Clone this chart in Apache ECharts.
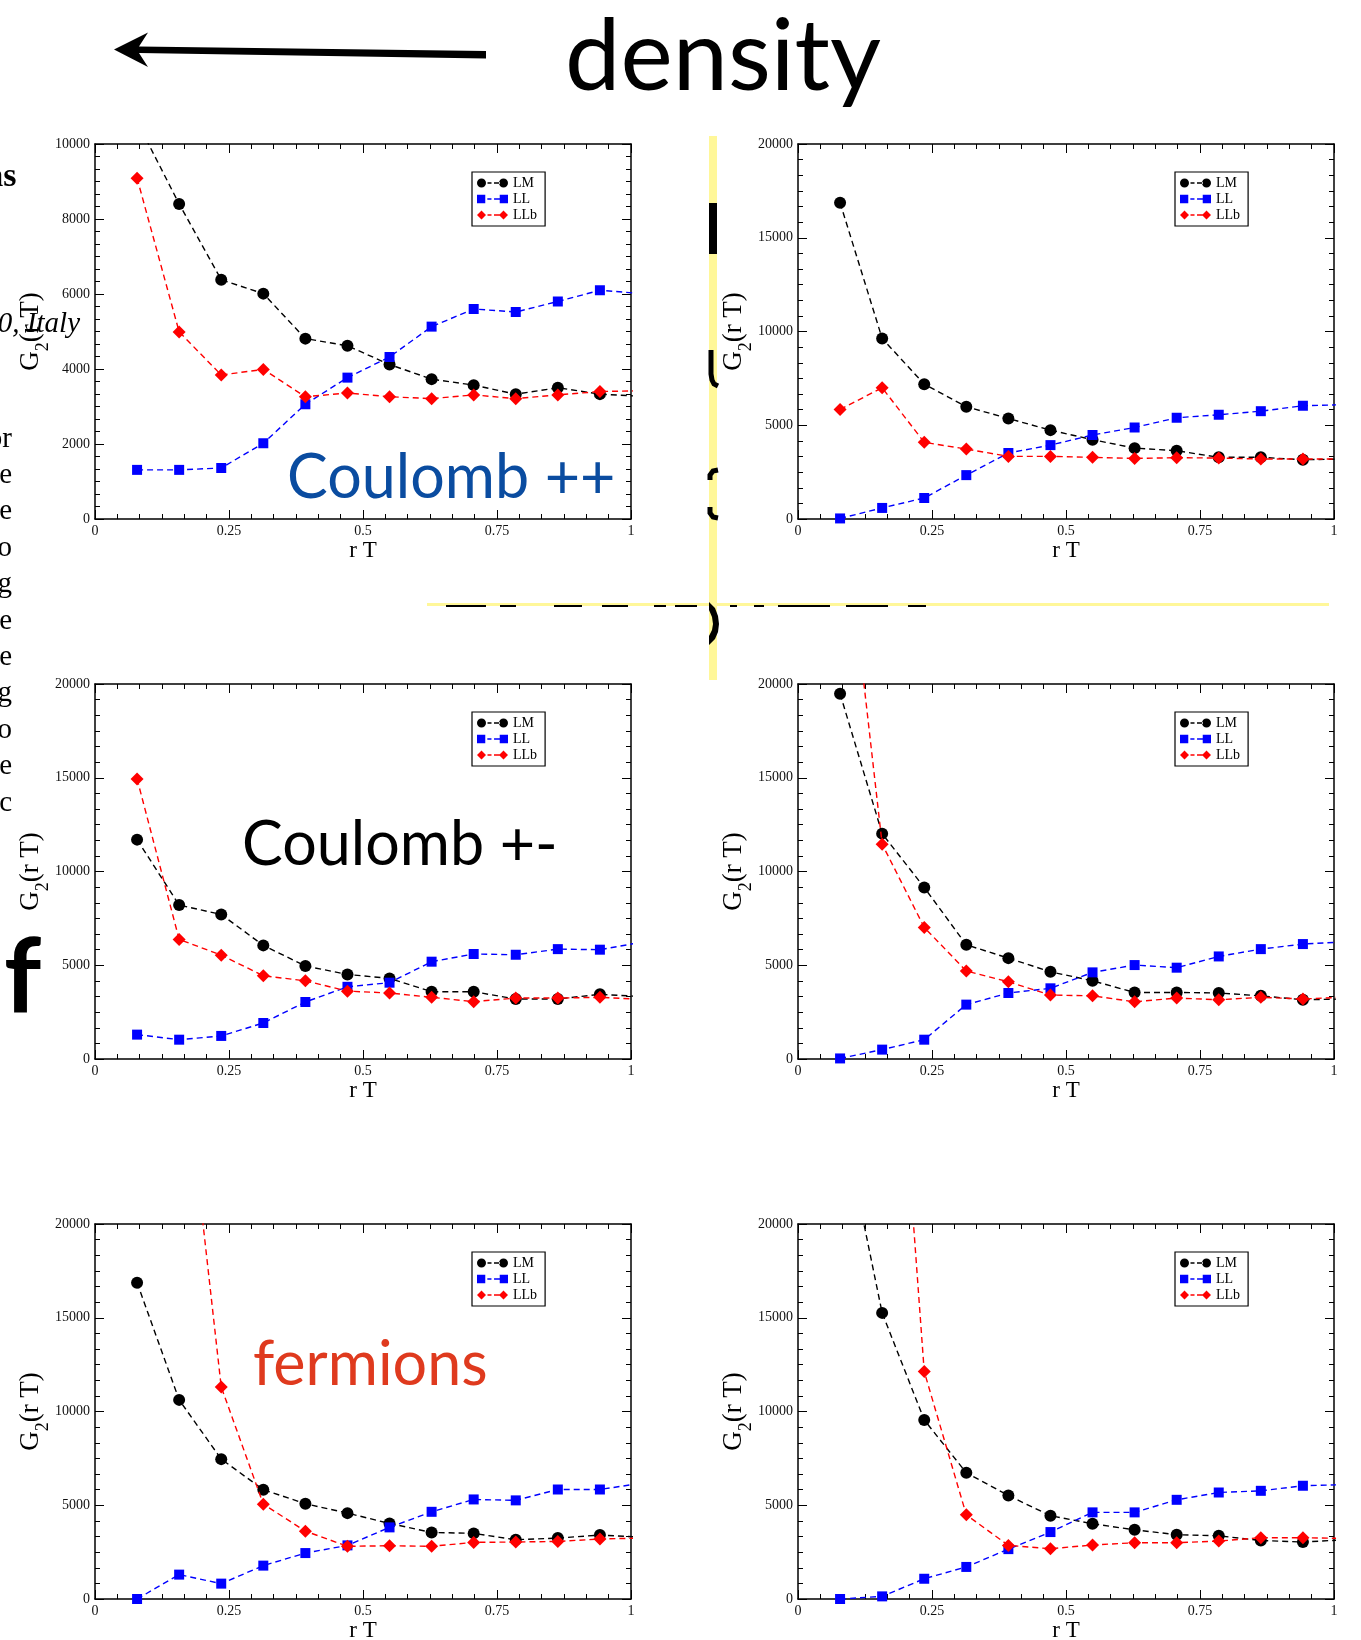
<!DOCTYPE html>
<html>
<head>
<meta charset="utf-8">
<title>G2(r T)</title>
<script src="https://cdn.jsdelivr.net/npm/echarts@6.0.0/dist/echarts.min.js"></script>
<style>
html, body { margin: 0; padding: 0; background: #fff; }
#chart { width: 1361px; height: 1640px; }
</style>
</head>
<body>
<div id="chart"></div>
<script>
// r·T sample points shared by every panel (the last one sits just past the frame)
const rT = [0.0785, 0.157, 0.2355, 0.314, 0.3925, 0.471, 0.5495, 0.628, 0.7065, 0.785, 0.8635, 0.942, 1.0205];
const seriesNames = ['LM', 'LL', 'LLb'];
const xTicks = [0, 0.25, 0.5, 0.75, 1];
const yTicks10k = [0, 2000, 4000, 6000, 8000, 10000];
const yTicks20k = [0, 5000, 10000, 15000, 20000];

// Coulomb ++, higher density (left) and lower density (right)
const ppHighLM  = [10600, 8400, 6380, 6010, 4810, 4620, 4120, 3730, 3570, 3330, 3500, 3330, 3270];
const ppHighLL  = [1310, 1310, 1360, 2020, 3060, 3770, 4320, 5130, 5600, 5520, 5800, 6100, 6010];
const ppHighLLb = [9090, 4990, 3840, 3990, 3260, 3360, 3260, 3210, 3310, 3210, 3310, 3400, 3420];
const ppLowLM   = [16870, 9630, 7190, 5990, 5360, 4740, 4230, 3780, 3640, 3290, 3290, 3160, 3200];
const ppLowLL   = [30, 590, 1120, 2340, 3520, 3940, 4480, 4880, 5400, 5560, 5750, 6040, 6100];
const ppLowLLb  = [5840, 7000, 4090, 3730, 3340, 3340, 3290, 3230, 3270, 3250, 3200, 3200, 3200];

// Coulomb +-
const pmHighLM  = [11700, 8210, 7710, 6060, 4960, 4510, 4300, 3590, 3590, 3200, 3200, 3450, 3330];
const pmHighLL  = [1300, 1030, 1230, 1920, 3040, 3850, 4070, 5190, 5600, 5560, 5860, 5830, 6230];
const pmHighLLb = [14940, 6380, 5540, 4440, 4170, 3620, 3520, 3290, 3060, 3250, 3250, 3290, 3180];
const pmLowLM   = [19480, 12020, 9150, 6090, 5380, 4650, 4170, 3550, 3550, 3520, 3370, 3160, 3200];
const pmLowLL   = [30, 500, 1030, 2900, 3520, 3770, 4620, 5010, 4870, 5470, 5860, 6130, 6250];
const pmLowLLb  = [31200, 11460, 7020, 4690, 4120, 3410, 3370, 3050, 3250, 3160, 3290, 3200, 3300];

// fermions
const fHighLM   = [16870, 10620, 7460, 5830, 5080, 4580, 4030, 3550, 3500, 3160, 3250, 3410, 3300];
const fHighLL   = [0, 1300, 820, 1780, 2450, 2860, 3820, 4650, 5310, 5260, 5840, 5840, 6180];
const fHighLLb  = [90000, 31400, 11310, 5060, 3620, 2810, 2840, 2810, 3020, 3040, 3070, 3200, 3250];
const fLowLM    = [26200, 15260, 9550, 6730, 5520, 4440, 4010, 3690, 3430, 3370, 3120, 3040, 3160];
const fLowLL    = [0, 140, 1080, 1710, 2660, 3570, 4620, 4620, 5290, 5680, 5770, 6040, 6100];
const fLowLLb   = [120000, 43000, 12130, 4490, 2860, 2680, 2880, 3000, 3000, 3090, 3270, 3270, 3230];

// panel layout: 2 columns x 3 rows
const PW = 536, PH = 375;
const panels = [
  { left: 95,  top: 144,  yTicks: yTicks10k, sets: [ppHighLM, ppHighLL, ppHighLLb] },
  { left: 798, top: 144,  yTicks: yTicks20k, sets: [ppLowLM, ppLowLL, ppLowLLb] },
  { left: 95,  top: 684,  yTicks: yTicks20k, sets: [pmHighLM, pmHighLL, pmHighLLb] },
  { left: 798, top: 684,  yTicks: yTicks20k, sets: [pmLowLM, pmLowLL, pmLowLLb] },
  { left: 95,  top: 1224, yTicks: yTicks20k, sets: [fHighLM, fHighLL, fHighLLb] },
  { left: 798, top: 1224, yTicks: yTicks20k, sets: [fLowLM, fLowLL, fLowLLb] }
];

const SERIF = '"Liberation Serif", "Times New Roman", serif';
const SANS = 'Lato, "Open Sans", sans-serif';

const markStyles = [
  { color: '#000000', symbol: 'circle',  size: 12 },
  { color: '#0000ff', symbol: 'rect',    size: 10 },
  { color: '#ff0000', symbol: 'diamond', size: 13 }
];

// legend glyphs: two markers joined by a short dash
const legendIcons = [
  'path://M0,4.5A4.5,4.5 0 1,0 9,4.5A4.5,4.5 0 1,0 0,4.5Z M10.5,3.8L14.5,3.8L14.5,5.2L10.5,5.2Z M17,3.8L23,3.8L23,5.2L17,5.2Z M22,4.5A4.5,4.5 0 1,0 31,4.5A4.5,4.5 0 1,0 22,4.5Z',
  'path://M0.5,0.5L8.5,0.5L8.5,8.5L0.5,8.5Z M10.5,3.8L14.5,3.8L14.5,5.2L10.5,5.2Z M17,3.8L23,3.8L23,5.2L17,5.2Z M22.5,0.5L30.5,0.5L30.5,8.5L22.5,8.5Z',
  'path://M0,4.5L4.5,0L9,4.5L4.5,9Z M10.5,3.8L14.5,3.8L14.5,5.2L10.5,5.2Z M17,3.8L23,3.8L23,5.2L17,5.2Z M22,4.5L26.5,0L31,4.5L26.5,9Z'
];

const frameLine = { show: true, onZero: false, lineStyle: { color: '#000', width: 1.5 } };
const majorTick = { show: true, inside: true, length: 9, lineStyle: { color: '#000', width: 1 } };
const minorTick = { show: true, splitNumber: 6, length: 5, lineStyle: { color: '#000', width: 1 } };
const tickFont = { fontFamily: SERIF, fontSize: 14, color: '#111' };

const grids = [], xAxes = [], yAxes = [], series = [], legends = [];

panels.forEach((p, i) => {
  grids.push({ left: p.left, top: p.top, width: PW, height: PH, outerBoundsMode: 'none' });
  const xr = { min: xTicks[0], max: xTicks[xTicks.length - 1], interval: xTicks[1] - xTicks[0] };
  const yr = { min: p.yTicks[0], max: p.yTicks[p.yTicks.length - 1], interval: p.yTicks[1] - p.yTicks[0] };

  xAxes.push({
    gridIndex: i, type: 'value', position: 'bottom', ...xr,
    axisLine: frameLine, axisTick: majorTick, minorTick: minorTick,
    splitLine: { show: false }, minorSplitLine: { show: false },
    axisLabel: { ...tickFont, margin: 5, formatter: v => String(v) },
    name: 'r T', nameLocation: 'middle', nameGap: 20, nameMoveOverlap: false,
    nameTextStyle: { fontFamily: SERIF, fontSize: 23, color: '#000' }
  });
  xAxes.push({
    gridIndex: i, type: 'value', position: 'top', ...xr,
    axisLine: frameLine, axisTick: majorTick, minorTick: minorTick,
    splitLine: { show: false }, axisLabel: { show: false }
  });
  yAxes.push({
    gridIndex: i, type: 'value', position: 'left', ...yr,
    axisLine: frameLine, axisTick: majorTick, minorTick: minorTick,
    splitLine: { show: false }, minorSplitLine: { show: false },
    axisLabel: { ...tickFont, margin: 5, formatter: v => String(v) },
    name: '{g|G}{s|2}{g|(r T)}', nameLocation: 'middle', nameRotate: 90, nameGap: 43,
    nameMoveOverlap: false,
    nameTextStyle: {
      color: '#000',
      rich: {
        g: { fontFamily: SERIF, fontSize: 27, lineHeight: 35, verticalAlign: 'top', color: '#000' },
        s: { fontFamily: SERIF, fontSize: 18, lineHeight: 18, verticalAlign: 'bottom', color: '#000' }
      }
    }
  });
  yAxes.push({
    gridIndex: i, type: 'value', position: 'right', ...yr,
    axisLine: frameLine, axisTick: majorTick, minorTick: minorTick,
    splitLine: { show: false }, axisLabel: { show: false }
  });

  p.sets.forEach((vals, k) => {
    const m = markStyles[k];
    series.push({
      type: 'line', name: seriesNames[k],
      xAxisIndex: 2 * i, yAxisIndex: 2 * i,
      data: rT.map((x, j) => [x, vals[j]]),
      clip: true, silent: true,
      symbol: m.symbol, symbolSize: m.size, showSymbol: true,
      itemStyle: { color: m.color, borderWidth: 0 },
      lineStyle: { color: m.color, width: 1.4, type: [6, 4] },
      emphasis: { disabled: true },
      z: 2 + k
    });
  });

  legends.push({
    left: p.left + 377, top: p.top + 28, orient: 'vertical',
    itemWidth: 31, itemHeight: 9, itemGap: 2, itemTextGap: 5,
    padding: [4, 8, 4, 5], borderColor: '#000', borderWidth: 1.2, borderRadius: 0,
    backgroundColor: '#fff', selectedMode: false,
    textStyle: { fontFamily: SERIF, fontSize: 14, lineHeight: 14, color: '#000' },
    data: seriesNames.map((n, k) => ({ name: n, icon: legendIcons[k] }))
  });
});

// text placed by its alphabetic baseline
function word(text, x, baseline, size, family, opts = {}) {
  const align = opts.align || 'left';
  return {
    type: 'text', x: x, y: baseline - 0.31 * size, z: opts.z || 20, silent: true,
    style: {
      text: text, fill: opts.fill || '#000',
      font: `${opts.style || 'normal'} ${opts.weight || 'normal'} ${size}px ${family}`,
      align: align, textAlign: align, verticalAlign: 'middle', textVerticalAlign: 'middle'
    }
  };
}

const YELLOW = '#fff799';
const graphics = [
  // density arrow
  { type: 'polygon', silent: true, z: 20,
    shape: { points: [[114, 49.5], [148, 32.5], [139, 46.5], [486, 51], [486, 58.5], [139, 53], [148, 67]] },
    style: { fill: '#000' } },
  word('density', 565, 89, 99, SANS),

  // panel captions
  word('Coulomb ++', 287, 497, 61, SANS, { fill: '#0a4ca0' }),
  word('Coulomb +-', 242, 864, 61, SANS, { fill: '#000' }),
  word('fermions', 253, 1384, 61, SANS, { fill: '#df3a1e' }),

  // text running in from the left margin
  word('as', 16.5, 188, 34, SERIF, { weight: 'bold', align: 'right' }),
  word('0, Italy', 80, 333, 29, SERIF, { style: 'italic', align: 'right', z: 1 }),
  word('f', 4, 1012, 104, SANS, { weight: 'bold' }),

  // yellow guide lines
  { type: 'rect', silent: true, z: 5, shape: { x: 709, y: 136, width: 8, height: 544 }, style: { fill: YELLOW } },
  { type: 'rect', silent: true, z: 5, shape: { x: 427, y: 603, width: 902, height: 3 }, style: { fill: YELLOW } },

  // dark letter strokes showing along the guide lines
  { type: 'rect', silent: true, z: 6, shape: { x: 709, y: 203, width: 8, height: 51 }, style: { fill: '#000' } },
  { type: 'polyline', silent: true, z: 6,
    shape: { points: [[711, 350], [711, 374], [712, 380], [714, 384], [718, 386]] },
    style: { fill: null, stroke: '#000', lineWidth: 5 } },
  { type: 'polyline', silent: true, z: 6,
    shape: { points: [[718, 470], [713, 471], [710, 475], [710, 480]] },
    style: { fill: null, stroke: '#000', lineWidth: 5 } },
  { type: 'polyline', silent: true, z: 6,
    shape: { points: [[710, 507], [710, 513], [713, 517], [718, 518]] },
    style: { fill: null, stroke: '#000', lineWidth: 5 } },
  { type: 'polygon', silent: true, z: 6,
    shape: { points: [[709, 602], [715, 608], [718, 616], [719, 624], [718, 632], [715, 639], [709, 645],
                      [709, 636], [712, 630], [713, 624], [712, 617], [709, 610]] },
    style: { fill: '#000' } }
];

const leftLetters = ['or', 'e', 'e', 'o', 'g', 'e', 'e', 'g', 'o', 'e', 'c'];
leftLetters.forEach((t, k) => graphics.push(word(t, 12, 448 + 36.4 * k, 29, SERIF, { align: 'right' })));

const strokeRuns = [[446, 486], [500, 516], [554, 582], [602, 628], [654, 666], [675, 697],
                    [730, 737], [754, 764], [778, 830], [846, 888], [908, 926]];
strokeRuns.forEach(([a, b]) => graphics.push({
  type: 'rect', silent: true, z: 6, shape: { x: a, y: 605, width: b - a, height: 2 }, style: { fill: '#000' }
}));

const chart = echarts.init(document.getElementById('chart'), null, { renderer: 'canvas' });
chart.setOption({
  backgroundColor: '#fff',
  animation: false,
  grid: grids,
  xAxis: xAxes,
  yAxis: yAxes,
  legend: legends,
  series: series,
  graphic: { elements: graphics }
});
</script>
</body>
</html>
